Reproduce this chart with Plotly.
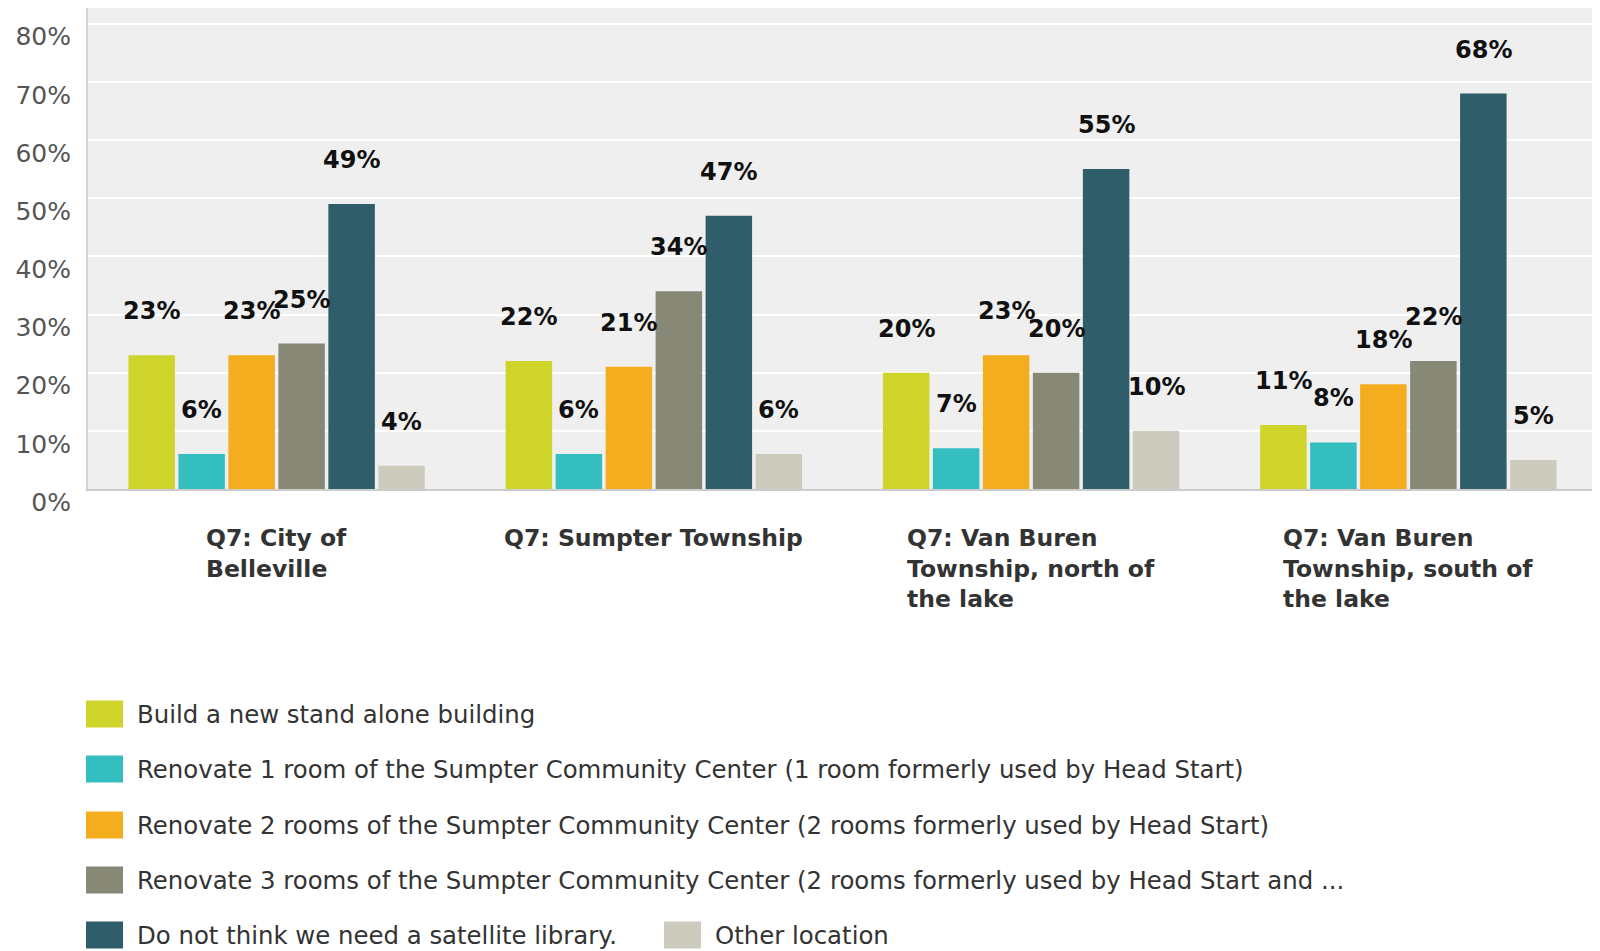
import plotly.graph_objects as go

categories = ["Q7: City of Belleville", "Q7: Sumpter Township",
              "Q7: Van Buren Township, north of the lake",
              "Q7: Van Buren Township, south of the lake"]
category_labels = ["Q7: City of<br>Belleville", "Q7: Sumpter Township",
                   "Q7: Van Buren<br>Township, north of<br>the lake",
                   "Q7: Van Buren<br>Township, south of<br>the lake"]

series_names = [
    "Build a new stand alone building",
    "Renovate 1 room of the Sumpter Community Center (1 room formerly used by Head Start)",
    "Renovate 2 rooms of the Sumpter Community Center (2 rooms formerly used by Head Start)",
    "Renovate 3 rooms of the Sumpter Community Center (2 rooms formerly used by Head Start and ...",
    "Do not think we need a satellite library.",
    "Other location",
]
build_new = [23, 22, 20, 11]
renovate_1 = [6, 6, 7, 8]
renovate_2 = [23, 21, 23, 18]
renovate_3 = [25, 34, 20, 22]
no_satellite = [49, 47, 55, 68]
other_location = [4, 6, 10, 5]
series_values = [build_new, renovate_1, renovate_2, renovate_3, no_satellite, other_location]
colors = ["#CFD42A", "#35BEC0", "#F5AD20", "#888877", "#2F5D6A", "#CDCBBE"]
y_ticks = [0, 10, 20, 30, 40, 50, 60, 70, 80]
y_tick_text = [f"{v}%" for v in y_ticks]

# page geometry (px, in figure coords; the page body adds an 8px offset)
OFF = 8
W, H = 1592, 943
plot_left, plot_right, plot_top, plot_bottom = 88 - OFF, 1597 - OFF, 8 - OFF, 489 - OFF
bargap, groupgap = 0.205, 0.07


def px_x(px):
    # px is a page coordinate
    return (px - OFF - plot_left) / (plot_right - plot_left)


def px_y(py):
    return (plot_bottom - (py - OFF)) / (plot_bottom - plot_top)


fig = go.Figure()
for name, vals, col in zip(series_names, series_values, colors):
    fig.add_trace(go.Bar(x=categories, y=vals, name=name, marker_color=col,
                         marker_line_width=0, showlegend=False))

annotations = []
n = len(series_values)
slot = (1 - bargap) / n
for i, vals in enumerate(series_values):
    off = -(1 - bargap) / 2 + slot * (i + 0.5)
    for j, v in enumerate(vals):
        annotations.append(dict(x=j + off, y=v, xref="x", yref="y", text=f"{v}%",
                                showarrow=False, yanchor="bottom", yshift=28,
                                font=dict(family="DejaVu Sans", size=24, color="#111", weight="bold")))

for j, lab in enumerate(category_labels):
    annotations.append(dict(x=j, y=0, xref="x", yref="paper", text=lab, showarrow=False,
                            yanchor="top", yshift=-33, align="left",
                            font=dict(family="DejaVu Sans", size=23.5, color="#333", weight="bold")))

# legend drawn by hand to match the swatch sizes
legend_rows = [714, 769, 825, 880, 935, 935]
legend_cols = [86, 86, 86, 86, 86, 664]
shapes = []
for name, col, ry, cx in zip(series_names, colors, legend_rows, legend_cols):
    shapes.append(dict(type="rect", xref="paper", yref="paper",
                       x0=px_x(cx), x1=px_x(cx + 37), y0=px_y(ry + 13.5), y1=px_y(ry - 13.5),
                       fillcolor=col, line_width=0))
    annotations.append(dict(x=px_x(cx + 49), y=px_y(ry), xref="paper", yref="paper", text=name,
                            showarrow=False, xanchor="left", yanchor="middle",
                            font=dict(family="DejaVu Sans", size=24.4, color="#333")))

fig.update_layout(
    width=W, height=H,
    margin=dict(l=plot_left, r=W - plot_right, t=plot_top, b=H - plot_bottom),
    plot_bgcolor="#EFEFEF", paper_bgcolor="white",
    barmode="group", bargap=bargap, bargroupgap=groupgap,
    annotations=annotations, shapes=shapes,
    showlegend=False,
)
fig.update_xaxes(showticklabels=False, showline=True, linecolor="#CCCCCC", linewidth=2,
                 showgrid=False)
fig.update_yaxes(range=[0, 82.7], tickvals=y_ticks, ticktext=y_tick_text, showgrid=True,
                 gridcolor="white", gridwidth=2, zeroline=False,
                 showline=True, linecolor="#D5D5D5", linewidth=2,
                 ticklabelstandoff=10, ticklabelshift=13,
                 tickfont=dict(family="DejaVu Sans", size=25, color="#555"))

fig.write_html("out.html")
